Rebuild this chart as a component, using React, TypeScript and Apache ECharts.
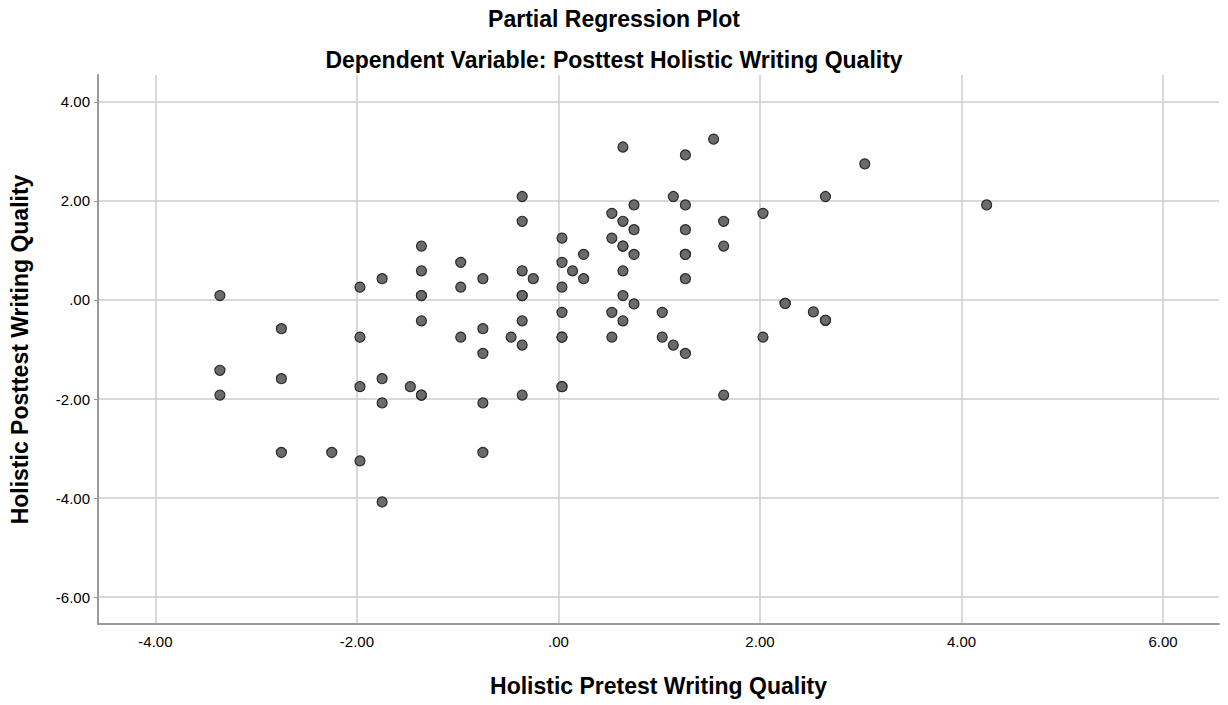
import React, { useEffect, useRef } from "react";
import * as echarts from "echarts";

const pretestX: number[] = [
  -3.36, -3.36, -3.36,
  -2.75, -2.75, -2.75,
  -2.25,
  -1.97, -1.97, -1.97, -1.97,
  -1.75, -1.75, -1.75, -1.75,
  -1.47,
  -1.36, -1.36, -1.36, -1.36, -1.36, -1.36, -1.36,
  -0.97, -0.97, -0.97,
  -0.75, -0.75, -0.75, -0.75, -0.75,
  -0.47,
  -0.36, -0.36, -0.36, -0.36, -0.36, -0.36, -0.36, -0.36,
  -0.25,
  0.035, 0.035, 0.035, 0.035, 0.035, 0.035, 0.035, 0.035,
  0.14,
  0.25, 0.25,
  0.53, 0.53, 0.53, 0.53,
  0.64, 0.64, 0.64, 0.64, 0.64, 0.64, 0.64,
  0.75, 0.75, 0.75, 0.75,
  1.03, 1.03,
  1.14, 1.14,
  1.26, 1.26, 1.26, 1.26, 1.26, 1.26, 1.26,
  1.54,
  1.64, 1.64, 1.64,
  2.03, 2.03,
  2.25, 2.25,
  2.53,
  2.65, 2.65, 2.65,
  3.04,
  4.25,
];

const posttestY: number[] = [
  0.09, -1.42, -1.92,
  -0.58, -1.59, -3.08,
  -3.08,
  0.26, -0.75, -1.75, -3.25,
  0.43, -1.59, -2.08, -4.08,
  -1.75,
  1.09, 0.59, 0.09, 0.09, -0.42, -1.92, -1.92,
  0.76, 0.26, -0.75,
  0.43, -0.58, -1.08, -2.08, -3.08,
  -0.75,
  2.09, 1.59, 0.59, 0.09, 0.09, -0.42, -0.91, -1.92,
  0.43,
  1.25, 0.76, 0.26, -0.25, -0.75, -0.75, -1.75, -1.75,
  0.59,
  0.92, 0.43,
  1.75, 1.25, -0.25, -0.75,
  3.09, 1.59, 1.09, 1.09, 0.59, 0.09, -0.42,
  1.92, 1.42, 0.92, -0.08,
  -0.25, -0.75,
  2.09, -0.91,
  2.93, 1.92, 1.42, 0.92, 0.92, 0.43, -1.08,
  3.25,
  1.59, 1.09, -1.92,
  1.75, -0.75,
  -0.07, -0.07,
  -0.24,
  2.09, -0.41, -0.41,
  2.75,
  1.92,
];

const xTicks: number[] = [-4, -2, 0, 2, 4, 6];
const yTicks: number[] = [-6, -4, -2, 0, 2, 4];

const chartTitle = "Partial Regression Plot";
const chartSubtitle = "Dependent Variable: Posttest Holistic Writing Quality";
const xName = "Holistic Pretest Writing Quality";
const yName = "Holistic Posttest Writing Quality";

const fmt = (v: number) => (Math.abs(v) < 1e-9 ? ".00" : v.toFixed(2));

export default function App() {
  const ref = useRef<HTMLDivElement>(null);
  useEffect(() => {
    document.body.style.margin = "0";
    if (!ref.current) return;
    const chart = echarts.init(ref.current, undefined, { renderer: "svg" });
    const font = "'Liberation Sans', Arial, sans-serif";
    const points = pretestX.map((x, i) => [x, posttestY[i]]);
    chart.setOption({
      animation: false,
      backgroundColor: "#ffffff",
      textStyle: { fontFamily: font },
      title: [
        {
          text: chartTitle,
          left: "center",
          top: 2,
          textStyle: { fontFamily: font, fontSize: 23, fontWeight: "bold", color: "#000" },
        },
        {
          text: chartSubtitle,
          left: "center",
          top: 43,
          textStyle: { fontFamily: font, fontSize: 23, fontWeight: "bold", color: "#000" },
        },
      ],
      grid: { left: 98, top: 75, width: 1121, height: 549, containLabel: false },
      xAxis: {
        type: "value",
        min: -4.57,
        max: 6.556,
        name: xName,
        nameLocation: "middle",
        nameGap: 50,
        nameTextStyle: { fontFamily: font, fontSize: 23, fontWeight: "bold", color: "#000" },
        axisLine: { show: true, onZero: false, lineStyle: { color: "#9a9a9a", width: 2 } },
        axisTick: { show: false, customValues: xTicks },
        axisLabel: {
          customValues: xTicks,
          formatter: fmt,
          fontFamily: font,
          fontSize: 15,
          color: "#000",
          margin: 10,
        },
        splitLine: { show: true, lineStyle: { color: "#cccccc", width: 1.5 } },
      },
      yAxis: {
        type: "value",
        min: -6.545,
        max: 4.545,
        name: yName,
        nameLocation: "middle",
        nameGap: 67,
        nameTextStyle: { fontFamily: font, fontSize: 23, fontWeight: "bold", color: "#000" },
        axisLine: { show: true, onZero: false, lineStyle: { color: "#9a9a9a", width: 2 } },
        axisTick: { show: true, length: 4, customValues: yTicks, lineStyle: { color: "#9a9a9a" } },
        axisLabel: {
          customValues: yTicks,
          formatter: fmt,
          fontFamily: font,
          fontSize: 15,
          color: "#000",
          margin: 8,
        },
        splitLine: { show: true, lineStyle: { color: "#cccccc", width: 1.5 } },
      },
      series: [
        {
          type: "scatter",
          data: points,
          symbol: "circle",
          symbolSize: 10,
          itemStyle: { color: "#6b6b6b", borderColor: "#2b2b2b", borderWidth: 1.2, opacity: 1 },
        },
      ],
    });
    return () => chart.dispose();
  }, []);
  return <div ref={ref} style={{ width: 1228, height: 705 }} />;
}
